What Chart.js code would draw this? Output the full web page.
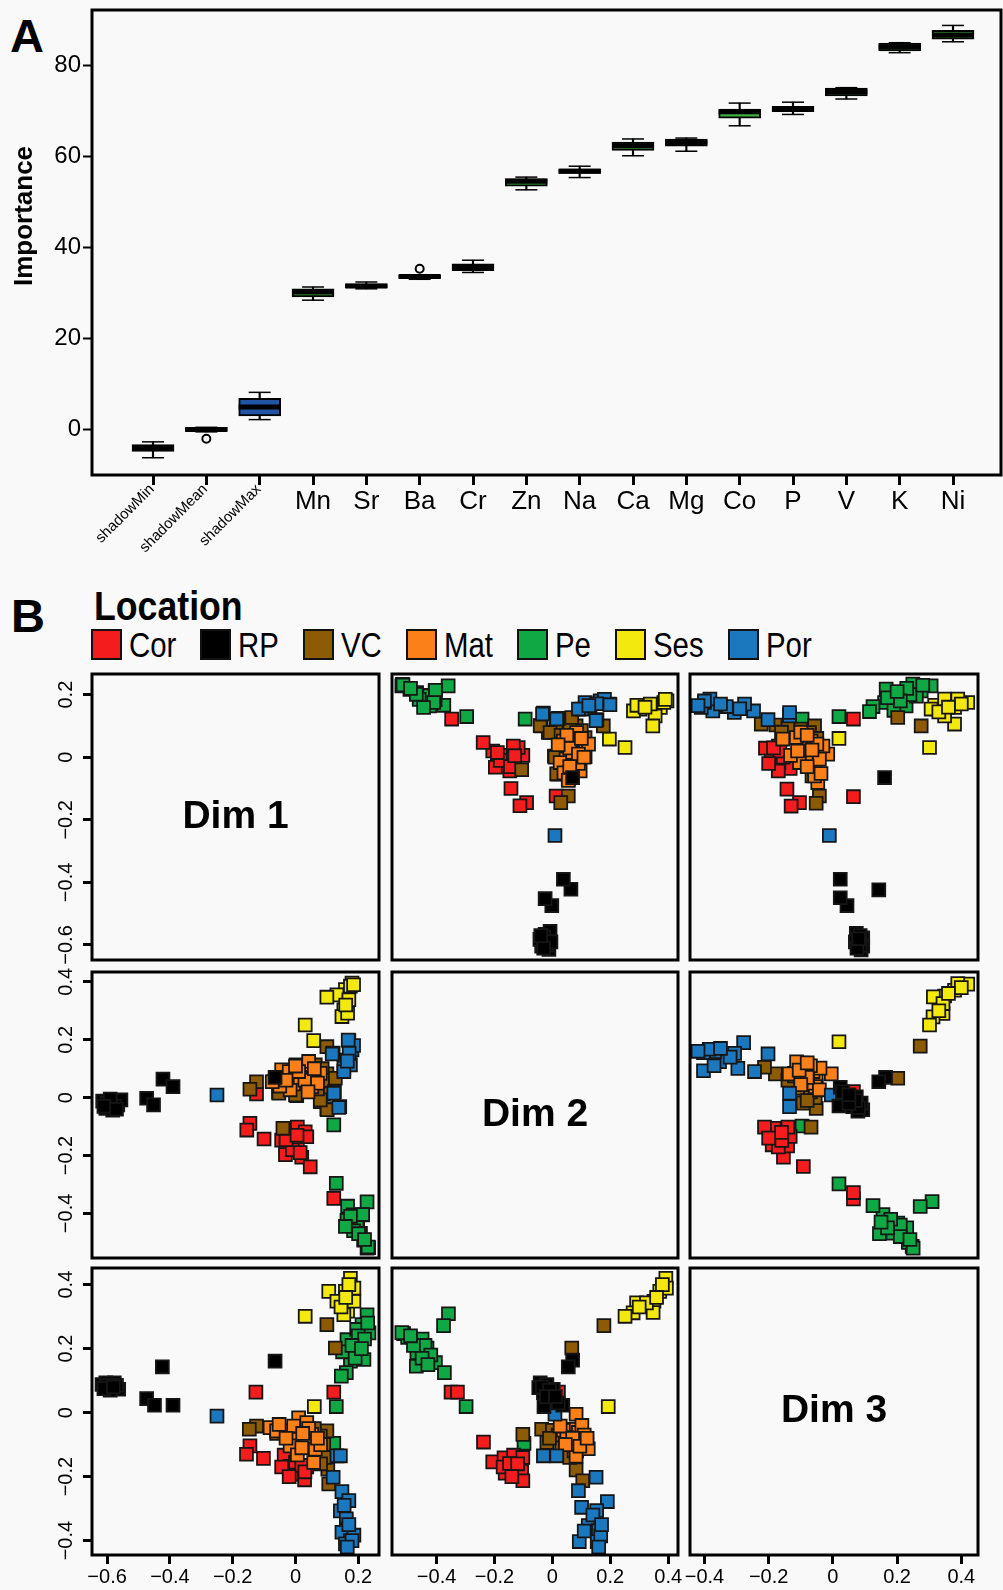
<!DOCTYPE html>
<html><head><meta charset="utf-8">
<script src="https://cdn.jsdelivr.net/npm/chart.js@4.4.1/dist/chart.umd.min.js"></script>
<style>
html,body{margin:0;padding:0;background:#f9f9f9;}
#fig{position:relative;width:1003px;height:1590px;overflow:hidden;background:#f9f9f9;font-family:"Liberation Sans",Arial,sans-serif;}
canvas{position:absolute;}
.txt{position:absolute;color:#000;white-space:nowrap;}
#legend{position:absolute;left:91px;top:629px;display:flex;gap:24px;align-items:center;}
.item{display:flex;align-items:center;gap:7px;}
.sw{width:27px;height:27px;border:2px solid #111;}
.lt{font-size:35px;line-height:31px;height:31px;overflow:visible;white-space:nowrap;}
.lt span{display:inline-block;transform:scaleX(0.84);transform-origin:0 50%;}
.narrow span{display:inline-block;transform:scaleX(0.87);transform-origin:0 50%;}
</style></head><body><div id="fig">
<div class="txt" style="left:10px;top:12px;font-size:47px;font-weight:bold;line-height:47px;">A</div>
<div class="txt" style="left:11px;top:592px;font-size:47px;font-weight:bold;line-height:47px;">B</div>
<div class="txt narrow" style="left:94px;top:586px;font-size:41px;font-weight:bold;line-height:41px;"><span>Location</span></div>
<div id="legend"></div>
</div>
<script>
// ---------- Panel A data (Boruta importance) ----------
const categories = ['shadowMin','shadowMean','shadowMax','Mn','Sr','Ba','Cr','Zn','Na','Ca','Mg','Co','P','V','K','Ni'];
const whiskerLow  = [-6.3, -0.6, 2.1, 28.4, 30.9, 33.0, 34.5, 52.7, 55.4, 60.2, 61.2, 66.8, 69.3, 72.7, 82.9, 85.3];
const q1          = [-4.9, -0.5, 2.9, 29.1, 31.1, 33.2, 34.9, 53.5, 56.3, 61.4, 62.3, 68.5, 69.9, 73.4, 83.3, 85.9];
const median      = [-4.2, -0.1, 4.9, 30.2, 31.5, 33.6, 35.8, 54.6, 56.8, 62.4, 63.1, 69.9, 70.5, 74.3, 84.2, 86.8];
const q3          = [-3.4,  0.4, 6.8, 30.9, 32.0, 33.9, 36.4, 55.2, 57.3, 63.2, 63.9, 70.5, 71.1, 75.1, 85.0, 87.8];
const whiskerHigh = [-2.8,  0.4, 8.1, 31.3, 32.4, 33.9, 37.2, 55.5, 57.9, 63.9, 64.1, 71.8, 72.0, 75.2, 85.1, 88.9];
const outlierCategory = [1, 5];
const outlierValue = [-2.1, 35.3];
const importanceTicks = [0, 20, 40, 60, 80];
const shadowCount = 3;

// ---------- Panel B data (MDS dims) ----------
const groups = ['Cor','RP','VC','Mat','Pe','Ses','Por'];
const groupColors = ['#f41c1c','#000000','#8d5a06','#fc8019','#10a844','#f4e90e','#1b78bf'];
const groupDrawOrder = [4, 0, 3, 2, 6, 5, 1];
const dimNames = ['Dim 1','Dim 2','Dim 3'];
const dimMin = [-0.648, -0.554, -0.445];
const dimMax = [0.266, 0.434, 0.452];
const dimTicks = [[-0.6,-0.4,-0.2,0,0.2],[-0.4,-0.2,0,0.2,0.4],[-0.4,-0.2,0,0.2,0.4]];
const dimTickLabels = [['\u22120.6','\u22120.4','\u22120.2','0','0.2'],['\u22120.4','\u22120.2','0','0.2','0.4'],['\u22120.4','\u22120.2','0','0.2','0.4']];

// Dim1 vs Dim2
const cor12 = [[-0.145,-0.089],[-0.155,-0.112],[-0.100,-0.143],[0.006,-0.102],[0.031,-0.118],[-0.017,-0.152],[0.006,-0.167],[0.020,-0.206],[0.047,-0.239],[-0.044,-0.147],[0.036,-0.135],[-0.030,-0.170],[0.122,-0.348],[-0.124,0.013],[-0.032,-0.197],[-0.010,-0.180],[-0.030,-0.145],[0.005,-0.130],[0.015,-0.190]];
const rp12 = [[-0.593,-0.019],[-0.614,-0.012],[-0.566,-0.025],[-0.556,-0.008],[-0.604,-0.037],[-0.582,-0.043],[-0.600,-0.020],[-0.575,-0.030],[-0.590,-0.005],[-0.610,-0.030],[-0.570,-0.040],[-0.474,-0.002],[-0.452,-0.025],[-0.422,0.064],[-0.390,0.038],[-0.065,0.070]];
const vc12 = [[-0.124,0.055],[-0.145,0.029],[-0.054,0.019],[0.004,0.007],[0.100,0.082],[0.090,0.013],[0.100,-0.039],[0.079,-0.014],[0.100,0.176],[-0.040,-0.106],[0.063,0.113],[0.101,-0.042],[0.079,-0.008],[0.000,0.009],[-0.053,0.015],[0.040,0.050],[0.070,0.030],[0.085,0.100],[0.110,0.060],[0.127,0.067]];
const mat12 = [[0.002,0.113],[-0.036,0.073],[-0.070,0.055],[0.049,0.082],[0.052,0.038],[-0.006,0.047],[0.026,0.107],[-0.017,0.027],[0.079,0.084],[0.042,0.125],[-0.044,0.096],[0.015,0.070],[-0.050,0.040],[0.030,0.060],[0.060,0.100],[-0.020,0.090],[0.070,0.050],[0.010,0.090],[-0.030,0.060],[0.040,0.020],[-0.074,0.055],[0.000,0.109]];
const pe12 = [[0.122,-0.094],[0.130,-0.296],[0.166,-0.375],[0.228,-0.360],[0.212,-0.405],[0.184,-0.405],[0.198,-0.441],[0.164,-0.424],[0.196,-0.435],[0.207,-0.469],[0.233,-0.518],[0.217,-0.492],[0.185,-0.460],[0.228,-0.520],[0.201,-0.470],[0.214,-0.404],[0.175,-0.410],[0.159,-0.445],[0.231,-0.516],[0.220,-0.490]];
const ses12 = [[0.180,0.396],[0.159,0.373],[0.132,0.355],[0.100,0.347],[0.170,0.338],[0.154,0.303],[0.148,0.280],[0.166,0.292],[0.031,0.251],[0.058,0.197],[0.175,0.385],[0.185,0.390],[0.160,0.320]];
const por12 = [[0.170,0.197],[0.180,0.165],[0.120,0.154],[0.164,0.130],[0.154,0.102],[0.175,0.113],[0.124,0.021],[0.141,-0.031],[-0.250,0.009],[0.185,0.180],[0.168,0.199],[0.171,0.153],[0.138,-0.034],[0.122,0.015],[0.154,0.090],[0.117,0.151],[0.165,0.126]];

// Dim1 vs Dim3
const cor13 = [[-0.126,0.064],[0.122,0.064],[-0.145,-0.104],[-0.156,-0.130],[-0.102,-0.143],[-0.036,-0.133],[-0.017,-0.168],[0.006,-0.192],[0.029,-0.210],[-0.044,-0.170],[0.036,-0.170],[0.000,-0.155],[0.020,-0.165],[-0.020,-0.200],[0.030,-0.185]];
const rp13 = [[-0.616,0.088],[-0.577,0.093],[-0.563,0.073],[-0.593,0.080],[-0.604,0.093],[-0.590,0.070],[-0.600,0.085],[-0.570,0.085],[-0.610,0.075],[-0.580,0.080],[-0.474,0.044],[-0.449,0.023],[-0.390,0.023],[-0.424,0.143],[-0.065,0.161]];
const vc13 = [[0.100,0.275],[0.127,0.202],[-0.124,-0.042],[-0.147,-0.052],[0.100,-0.057],[0.079,-0.073],[0.103,-0.177],[0.106,-0.223],[0.068,-0.135],[-0.060,-0.065],[0.090,-0.100],[0.050,-0.080],[0.020,-0.060],[0.095,-0.140],[0.060,-0.050],[0.080,-0.160]];
const mat13 = [[0.010,-0.016],[0.036,-0.031],[-0.081,-0.047],[-0.036,-0.057],[-0.006,-0.042],[0.004,-0.083],[0.052,-0.068],[-0.017,-0.104],[0.031,-0.100],[0.063,-0.114],[0.006,-0.132],[-0.060,-0.057],[0.058,-0.156],[-0.052,-0.037],[0.042,-0.050],[0.023,-0.065],[0.080,-0.100],[-0.030,-0.080],[0.020,-0.110],[0.070,-0.080]];
const pe13 = [[0.228,0.306],[0.212,0.275],[0.234,0.249],[0.202,0.218],[0.164,0.228],[0.186,0.197],[0.218,0.166],[0.175,0.161],[0.162,0.125],[0.146,0.114],[0.130,0.019],[0.122,-0.096],[0.195,0.260],[0.150,0.190],[0.200,0.240],[0.220,0.230],[0.180,0.210],[0.230,0.280],[0.190,0.170],[0.210,0.200]];
const ses13 = [[0.175,0.420],[0.159,0.379],[0.106,0.379],[0.132,0.348],[0.166,0.317],[0.186,0.348],[0.154,0.306],[0.186,0.389],[0.031,0.301],[0.060,0.019],[0.170,0.400],[0.145,0.330],[0.160,0.360]];
const por13 = [[-0.250,-0.011],[0.132,-0.135],[0.143,-0.135],[0.120,-0.202],[0.148,-0.247],[0.170,-0.275],[0.143,-0.307],[0.162,-0.332],[0.166,-0.364],[0.148,-0.374],[0.175,-0.400],[0.186,-0.383],[0.159,-0.410],[0.170,-0.350],[0.180,-0.400],[0.155,-0.290],[0.165,-0.420]];

// Dim2 vs Dim3
const cor23 = [[-0.350,0.064],[-0.328,0.064],[0.021,0.064],[-0.238,-0.092],[-0.206,-0.154],[-0.167,-0.141],[-0.134,-0.133],[-0.102,-0.140],[-0.163,-0.189],[-0.106,-0.183],[-0.102,-0.213],[-0.170,-0.170],[-0.148,-0.159],[-0.120,-0.160],[-0.140,-0.200]];
const rp23 = [[0.070,0.164],[0.055,0.143],[-0.042,0.093],[-0.019,0.088],[-0.031,0.062],[-0.002,0.036],[0.036,0.023],[-0.029,0.019],[0.003,0.073],[-0.047,0.078],[-0.035,0.080],[-0.010,0.070],[0.020,0.030],[-0.020,0.050],[0.010,0.050]];
const vc23 = [[0.178,0.272],[0.067,0.202],[-0.102,-0.068],[-0.037,-0.052],[-0.019,-0.093],[0.082,-0.179],[0.105,-0.213],[0.032,-0.109],[0.040,-0.052],[0.000,-0.055],[0.060,-0.140],[0.020,-0.070],[0.075,-0.120],[-0.010,-0.080]];
const mat23 = [[0.082,-0.005],[0.067,-0.052],[0.109,-0.085],[0.090,-0.062],[0.038,-0.055],[0.119,-0.099],[0.084,-0.120],[0.050,-0.078],[0.027,-0.042],[0.124,-0.113],[0.082,-0.136],[0.058,-0.099],[0.102,-0.040],[0.110,-0.070],[0.070,-0.080],[0.095,-0.105],[0.045,-0.100],[0.120,-0.080]];
const pe23 = [[-0.359,0.309],[-0.376,0.272],[-0.514,0.247],[-0.473,0.223],[-0.433,0.202],[-0.468,0.187],[-0.404,0.156],[-0.470,0.145],[-0.373,0.125],[-0.298,0.019],[-0.098,-0.096],[-0.450,0.230],[-0.500,0.235],[-0.520,0.250],[-0.440,0.210],[-0.480,0.210],[-0.420,0.180],[-0.490,0.240],[-0.450,0.170],[-0.430,0.150]];
const ses23 = [[0.392,0.420],[0.371,0.379],[0.394,0.389],[0.351,0.348],[0.348,0.313],[0.291,0.343],[0.279,0.312],[0.251,0.301],[0.193,0.019],[0.325,0.343],[0.380,0.400],[0.360,0.360],[0.300,0.330]];
const por23 = [[0.009,-0.005],[-0.031,-0.135],[0.015,-0.135],[0.151,-0.202],[0.090,-0.244],[0.190,-0.278],[0.101,-0.296],[0.153,-0.306],[0.124,-0.353],[0.159,-0.369],[0.093,-0.403],[0.155,-0.403],[0.167,-0.385],[0.140,-0.320],[0.160,-0.420],[0.110,-0.370],[0.170,-0.350]];

const pairSets = {
  '0-1': [cor12, rp12, vc12, mat12, pe12, ses12, por12],
  '0-2': [cor13, rp13, vc13, mat13, pe13, ses13, por13],
  '1-2': [cor23, rp23, vc23, mat23, pe23, ses23, por23]
};

// ---------- setup ----------
Chart.defaults.font.family = "'Liberation Sans', Arial, sans-serif";
Chart.defaults.color = '#000';
Chart.defaults.animation = false;
const fig = document.getElementById('fig');

// legend (HTML, condensed look via scaleX)
const legend = document.getElementById('legend');
groups.forEach((g, i) => {
  const it = document.createElement('div'); it.className = 'item';
  const sw = document.createElement('div'); sw.className = 'sw'; sw.style.background = groupColors[i];
  const t = document.createElement('div'); t.className = 'lt';
  const s = document.createElement('span'); s.textContent = g; t.appendChild(s);
  it.appendChild(sw); it.appendChild(t); legend.appendChild(it);
  t.style.width = (s.getBoundingClientRect().width) + 'px';
});

const framePlugin = {
  id: 'frame',
  afterDraw(chart, args, opts) {
    const {ctx, chartArea: a} = chart;
    ctx.save();
    ctx.lineWidth = opts.width || 3;
    ctx.strokeStyle = '#000';
    ctx.strokeRect(a.left, a.top, a.right - a.left, a.bottom - a.top);
    ctx.restore();
  }
};

// ---------- Panel A ----------
const cA = document.createElement('canvas');
cA.width = 1003; cA.height = 580;
cA.style.left = '0px'; cA.style.top = '0px';
fig.appendChild(cA);
const idx = categories.map((_, i) => i);
const boxBlue = '#2254a6', boxGreen = '#3fb040';

const panelALabels = {
  id: 'panelALabels',
  afterDraw(chart) {
    const {ctx, chartArea: a} = chart;
    const xs = chart.scales.x;
    ctx.save();
    ctx.fillStyle = '#000';
    ctx.font = "15px 'Liberation Sans', Arial, sans-serif";
    ctx.textAlign = 'right';
    ctx.textBaseline = 'middle';
    for (let i = 0; i < shadowCount; i++) {
      const px = xs.getPixelForValue(i);
      ctx.save();
      ctx.translate(px - 1, a.bottom + 12);
      ctx.rotate(-Math.PI / 4);
      ctx.fillText(categories[i], 0, 0);
      ctx.restore();
    }
    ctx.font = "bold 26px 'Liberation Sans', Arial, sans-serif";
    ctx.textAlign = 'center';
    ctx.textBaseline = 'alphabetic';
    ctx.translate(32, 216);
    ctx.rotate(-Math.PI / 2);
    ctx.fillText('Importance', 0, 0);
    ctx.restore();
  }
};

new Chart(cA, {
  type: 'bar',
  data: {
    datasets: [
      {type: 'scatter', label: 'Median', data: idx.map(i => ({x: i, y: median[i]})),
       pointStyle: 'line', pointRadius: 21, pointHoverRadius: 21, pointBorderWidth: 5, pointBorderColor: '#000', order: 0},
      {type: 'scatter', label: 'Outliers', data: outlierCategory.map((c, k) => ({x: c, y: outlierValue[k]})),
       pointStyle: 'circle', pointRadius: 4, pointBorderWidth: 2, pointBorderColor: '#000', pointBackgroundColor: 'rgba(0,0,0,0)', order: 0},
      {type: 'bar', label: 'IQR', data: idx.map(i => ({x: i, y: [q1[i], q3[i]]})),
       backgroundColor: idx.map(i => i < shadowCount ? boxBlue : boxGreen), borderColor: '#000', borderWidth: 2,
       borderSkipped: false, barThickness: 42, grouped: false, order: 1},
      {type: 'scatter', label: 'Caps', data: idx.map(i => ({x: i, y: whiskerLow[i]})).concat(idx.map(i => ({x: i, y: whiskerHigh[i]}))),
       pointStyle: 'line', pointRadius: 11, pointBorderWidth: 1.5, pointBorderColor: '#000', order: 2},
      {type: 'bar', label: 'Whiskers', data: idx.map(i => ({x: i, y: [whiskerLow[i], whiskerHigh[i]]})),
       backgroundColor: '#000', borderWidth: 0, barThickness: 1.5, grouped: false, order: 3}
    ]
  },
  options: {
    responsive: false,
    layout: {autoPadding: false, padding: {left: 0, top: 10, right: 2, bottom: 0}},
    plugins: {legend: {display: false}, tooltip: {enabled: false}, frame: {width: 3}},
    scales: {
      x: {
        type: 'linear', min: -1.144, max: 15.9, offset: false,
        afterBuildTicks: s => { s.ticks = idx.map(v => ({value: v})); },
        afterFit: s => { s.height = 105; s.paddingLeft = 0; s.paddingRight = 0; },
        grid: {display: true, offset: false, drawOnChartArea: false, drawTicks: true, tickLength: 10, tickWidth: 3, tickColor: '#000'},
        border: {display: false},
        ticks: {autoSkip: false, maxRotation: 0, minRotation: 0, padding: 1, color: '#000',
                font: {size: 26}, callback: v => (v < shadowCount ? '' : categories[v])}
      },
      y: {
        type: 'linear', min: -10.1, max: 92.3,
        afterBuildTicks: s => { s.ticks = importanceTicks.map(v => ({value: v})); },
        afterFit: s => { s.width = 92; s.paddingTop = 0; s.paddingBottom = 0; },
        grid: {display: true, drawOnChartArea: false, drawTicks: true, tickLength: 9, tickWidth: 2, tickColor: '#000'},
        border: {display: false},
        ticks: {padding: 2, color: '#000', font: {size: 24}}
      }
    }
  },
  plugins: [framePlugin, panelALabels]
});

// ---------- Panel B (pairs plot) ----------
const colL = [92, 392, 690], colR = [379, 678, 978];
const rowT = [674, 972, 1268], rowB = [960, 1258, 1555];
const M = 22;

function pairData(xd, yd) {
  if (xd < yd) return pairSets[xd + '-' + yd].map(arr => arr.map(p => ({x: p[0], y: p[1]})));
  return pairSets[yd + '-' + xd].map(arr => arr.map(p => ({x: p[1], y: p[0]})));
}

function makePanel(r, c) {
  const left = c === 0 ? 0 : colL[c] - M;
  const top = rowT[r] - M;
  const right = colR[c] + M;
  const bottom = r === 2 ? 1590 : rowB[r] + M;
  const cv = document.createElement('canvas');
  cv.width = right - left; cv.height = bottom - top;
  cv.style.left = left + 'px'; cv.style.top = top + 'px';
  fig.appendChild(cv);
  let datasets = [];
  if (r !== c) {
    const d = pairData(c, r);
    datasets = groups.map((g, i) => ({
      label: g, data: d[i], order: groupDrawOrder[i],
      pointStyle: 'rect', pointRadius: 9.1, pointHoverRadius: 9.1,
      pointBackgroundColor: groupColors[i], pointBorderColor: '#161616', pointBorderWidth: 1.8,
      clip: 0
    }));
  }
  const panelText = {
    id: 'panelText',
    afterDraw(chart) {
      const {ctx, chartArea: a} = chart;
      ctx.save();
      ctx.fillStyle = '#000';
      if (r === c) {
        ctx.font = "bold 39px 'Liberation Sans', Arial, sans-serif";
        ctx.textAlign = 'center'; ctx.textBaseline = 'middle';
        ctx.fillText(dimNames[r], (a.left + a.right) / 2, (a.top + a.bottom) / 2);
      }
      if (c === 0) {
        const ys = chart.scales.y;
        ctx.font = "20px 'Liberation Sans', Arial, sans-serif";
        ctx.textAlign = 'center'; ctx.textBaseline = 'alphabetic';
        dimTicks[r].forEach((v, k) => {
          const py = ys.getPixelForValue(v);
          ctx.save(); ctx.translate(72, py); ctx.rotate(-Math.PI / 2);
          ctx.fillText(dimTickLabels[r][k], 0, 0);
          ctx.restore();
        });
      }
      ctx.restore();
    }
  };
  new Chart(cv, {
    type: 'scatter',
    data: {datasets},
    options: {
      responsive: false,
      layout: {autoPadding: false, padding: {left: c === 0 ? 0 : M, top: M, right: M, bottom: r === 2 ? 0 : M}},
      plugins: {legend: {display: false}, tooltip: {enabled: false}, frame: {width: 3}},
      scales: {
        x: {
          type: 'linear', display: r === 2, min: dimMin[c], max: dimMax[c],
          afterBuildTicks: s => { s.ticks = dimTicks[c].map(v => ({value: v})); },
          afterFit: s => { s.height = (r === 2) ? 35 : 0; s.paddingLeft = 0; s.paddingRight = 0; },
          grid: {display: true, drawOnChartArea: false, drawTicks: true, tickLength: 9, tickWidth: 3, tickColor: '#000'},
          border: {display: false},
          ticks: {padding: 1, color: '#000', maxRotation: 0, autoSkip: false, font: {size: 20},
                  callback: (v, k) => dimTickLabels[c][k]}
        },
        y: {
          type: 'linear', display: c === 0, min: dimMin[r], max: dimMax[r],
          afterBuildTicks: s => { s.ticks = dimTicks[r].map(v => ({value: v})); },
          afterFit: s => { s.width = (c === 0) ? 92 : 0; s.paddingTop = 0; s.paddingBottom = 0; },
          grid: {display: true, drawOnChartArea: false, drawTicks: true, tickLength: 9, tickWidth: 3, tickColor: '#000'},
          border: {display: false},
          ticks: {display: false}
        }
      }
    },
    plugins: [framePlugin, panelText]
  });
}
for (let r = 0; r < 3; r++) for (let c = 0; c < 3; c++) makePanel(r, c);
</script></body></html>
